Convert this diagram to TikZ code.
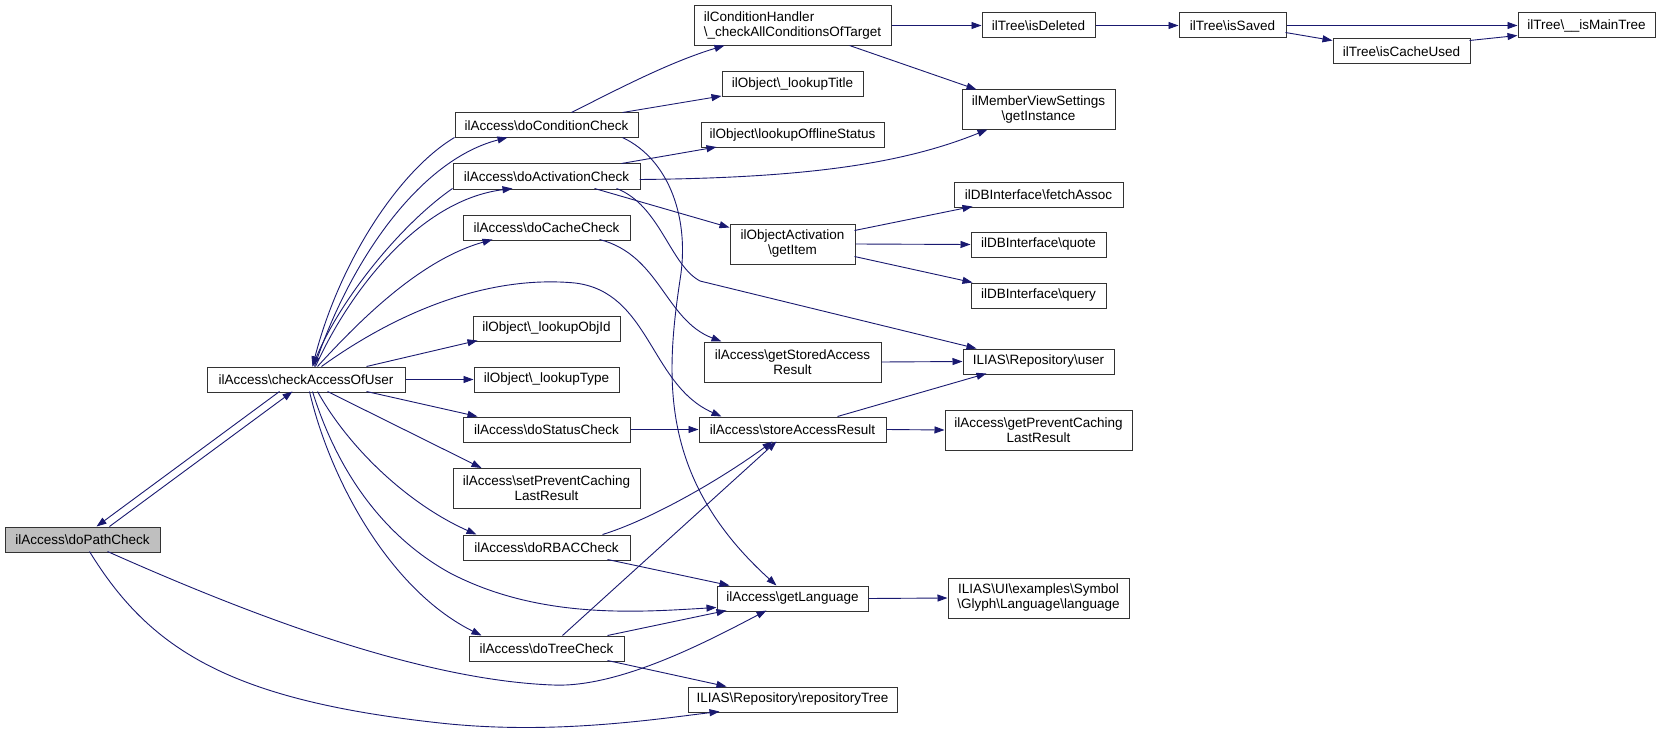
\documentclass[tikz,border=0pt]{standalone}
\usepackage{fontspec}
\setmainfont{Liberation Sans}
\usetikzlibrary{arrows.meta,calc}
\definecolor{edgecol}{HTML}{191970}
\definecolor{rootfill}{HTML}{BFBFBF}
\newcommand{\nfont}{\fontsize{13.5}{15}\selectfont}
\newcommand{\bs}{\textbackslash}
\begin{document}
\begin{tikzpicture}[x=1pt,y=-1pt,
  box/.style={draw=black!80, line width=1pt, fill=white, inner sep=0pt, font=\nfont, align=center, minimum height=25pt},
  tall/.style={box, minimum height=40pt},
  edge/.style={draw=edgecol, line width=0.9pt, -{Triangle[length=10pt,width=7pt]}}]
\useasboundingbox (0,0) rectangle (1660,733);
\fill[white] (0,0) rectangle (1660,733);
% nodes
\node[box, fill=rootfill, minimum width=155pt] (dpc) at (82.5,539.5) {ilAccess\bs doPathCheck};
\node[box, minimum width=198pt] (cau) at (306,379.5) {ilAccess\bs checkAccessOfUser};
\node[box, minimum width=183pt] (dcc) at (546.5,125.5) {ilAccess\bs doConditionCheck};
\node[box, minimum width=187pt] (dac) at (546.5,176.5) {ilAccess\bs doActivationCheck};
\node[box, minimum width=167pt] (dch) at (546.5,227.5) {ilAccess\bs doCacheCheck};
\node[box, minimum width=147pt] (loi) at (546.5,328.5) {ilObject\bs\_lookupObjId};
\node[box, minimum width=145pt] (lty) at (546.5,379.5) {ilObject\bs\_lookupType};
\node[box, minimum width=167pt] (dsc) at (546.5,429.5) {ilAccess\bs doStatusCheck};
\node[tall, minimum width=187pt] (spc) at (546.5,488.5) {ilAccess\bs setPreventCaching\\LastResult};
\node[box, minimum width=167pt] (drc) at (546.5,547.5) {ilAccess\bs doRBACCheck};
\node[box, minimum width=155pt] (dtc) at (546.5,648.5) {ilAccess\bs doTreeCheck};
\node[tall, minimum width=197pt, align=left] (ch) at (792.5,26) {ilConditionHandler\\\bs\_checkAllConditionsOfTarget};
\node[box, minimum width=141pt] (ltt) at (792.5,84) {ilObject\bs\_lookupTitle};
\node[box, minimum width=183pt] (los) at (792.5,135) {ilObject\bs lookupOfflineStatus};
\node[tall, minimum width=125pt] (oag) at (792.5,244) {ilObjectActivation\\\bs getItem};
\node[tall, minimum width=177pt] (gsr) at (792.5,362) {ilAccess\bs getStoredAccess\\Result};
\node[box, minimum width=187pt] (sar) at (792.5,429.5) {ilAccess\bs storeAccessResult};
\node[box, minimum width=151pt] (gla) at (792.5,598.5) {ilAccess\bs getLanguage};
\node[box, minimum width=209pt] (rpt) at (792.5,699.5) {ILIAS\bs Repository\bs repositoryTree};
\node[box, minimum width=113pt] (isd) at (1038.5,25.5) {ilTree\bs isDeleted};
\node[box, minimum width=107pt] (iss) at (1232.5,25.5) {ilTree\bs isSaved};
\node[box, minimum width=137pt] (icu) at (1401.5,51.5) {ilTree\bs isCacheUsed};
\node[box, minimum width=137pt] (imt) at (1586.5,25.5) {ilTree\bs\_\_isMainTree};
\node[tall, minimum width=153pt] (mvs) at (1038.5,110) {ilMemberViewSettings\\\bs getInstance};
\node[box, minimum width=169pt] (fas) at (1038.5,194.5) {ilDBInterface\bs fetchAssoc};
\node[box, minimum width=135pt] (quo) at (1038.5,244.5) {ilDBInterface\bs quote};
\node[box, minimum width=135pt] (qry) at (1038.5,295.5) {ilDBInterface\bs query};
\node[box, minimum width=151pt] (usr) at (1038.5,361.5) {ILIAS\bs Repository\bs user};
\node[tall, minimum width=187pt] (gpc) at (1038.5,430) {ilAccess\bs getPreventCaching\\LastResult};
\node[tall, minimum width=181pt] (lng) at (1038.5,598) {ILIAS\bs UI\bs examples\bs Symbol\\\bs Glyph\bs Language\bs language};
% edges: doPathCheck / checkAccessOfUser
\draw[edge] ($(cau.north west)+(73,25)$) -- ($(dpc.north west)+(92,0)$);
\draw[edge] ($(dpc.north west)+(105,0)$) -- ($(cau.north west)+(86,25)$);
\draw[edge] ($(dpc.north west)+(103,25)$) .. controls (250,615) and (420,680) .. (553,685) .. controls (620,688) and (710,640) .. ($(gla.north west)+(50,25)$);
\draw[edge] ($(dpc.north west)+(85,25)$) .. controls (150,650) and (230,700) .. (440,723) .. controls (550,735) and (650,720) .. ($(rpt.north west)+(32,25)$);
% edges around checkAccessOfUser top
\draw[edge] ($(dcc.north west)+(0,25)$) .. controls (400,170) and (340,260) .. ($(cau.north west)+(106,0)$);
\draw[edge] ($(cau.north west)+(108,0)$) .. controls (350,260) and (420,160) .. ($(dcc.north west)+(53,25)$);
\draw[edge] ($(dac.north west)+(0,25)$) .. controls (400,225) and (340,300) .. ($(cau.north west)+(106,0)$);
\draw[edge] ($(cau.north west)+(109,0)$) .. controls (350,290) and (420,200) .. ($(dac.north west)+(60,25)$);
\draw[edge] ($(cau.north west)+(111,0)$) .. controls (360,320) and (420,260) .. ($(dch.north west)+(30,25)$);
\draw[edge] ($(cau.north west)+(115,0)$) .. controls (400,310) and (490,275) .. (575,283) .. controls (650,292) and (650,385) .. ($(sar.north west)+(23,0)$);
\draw[edge] ($(cau.north west)+(160,0)$) -- ($(loi.north west)+(5,25)$);
\draw[edge] (cau.east) -- (lty.west);
\draw[edge] ($(cau.north west)+(160,25)$) -- ($(dsc.north west)+(15,0)$);
\draw[edge] ($(cau.north west)+(121,25)$) -- ($(spc.north west)+(29,0)$);
\draw[edge] ($(cau.north west)+(111,25)$) .. controls (350,450) and (410,505) .. ($(drc.north west)+(14,0)$);
\draw[edge] ($(cau.north west)+(106,25)$) .. controls (340,480) and (390,540) .. (450,573) .. controls (540,620) and (640,612) .. ($(gla.north west)+(0,22)$);
\draw[edge] ($(cau.north west)+(103,25)$) .. controls (330,480) and (390,590) .. ($(dtc.north west)+(13,0)$);
% doConditionCheck
\draw[edge] ($(dcc.north west)+(117,0)$) .. controls (620,88) and (670,62) .. ($(ch.north west)+(31,40)$);
\draw[edge] ($(dcc.north west)+(168,0)$) -- ($(ltt.north west)+(0,25)$);
\draw[edge] ($(dcc.north west)+(168,25)$) .. controls (670,160) and (690,220) .. (680,280) .. controls (665,380) and (660,480) .. ($(gla.north west)+(60,0)$);
% doActivationCheck
\draw[edge] ($(dac.north west)+(169,0)$) -- ($(los.north west)+(16,25)$);
\draw[edge] ($(dac.north west)+(187,16)$) .. controls (800,178) and (900,165) .. ($(mvs.north west)+(26,40)$);
\draw[edge] ($(dac.north west)+(142,25)$) -- ($(oag.north west)+(0,4)$);
\draw[edge] ($(dac.north west)+(164,25)$) .. controls (660,205) and (670,265) .. (700,281) -- ($(usr.north west)+(14,0)$);
% doCacheCheck
\draw[edge] ($(dch.north west)+(137,25)$) .. controls (660,255) and (665,320) .. ($(gsr.north west)+(18,0)$);
% condition handler chain
\draw[edge] (ch.east |- isd.west) -- (isd.west);
\draw[edge] ($(ch.north west)+(156,40)$) -- ($(mvs.north west)+(15,0)$);
\draw[edge] (isd.east) -- (iss.west);
\draw[edge] (iss.east) -- (imt.west);
\draw[edge] ($(iss.north west)+(107,20)$) -- ($(icu.north west)+(0,2)$);
\draw[edge] ($(icu.north west)+(137,2)$) -- ($(imt.north west)+(0,23)$);
% getItem
\draw[edge] ($(oag.north west)+(125,7)$) -- ($(fas.north west)+(19,25)$);
\draw[edge] (oag.east) -- (quo.west);
\draw[edge] ($(oag.north west)+(125,33)$) -- ($(qry.north west)+(2,0)$);
% stored/store
\draw[edge] (gsr.east) -- (usr.west);
\draw[edge] ($(sar.north west)+(139,0)$) -- ($(usr.north west)+(24,25)$);
\draw[edge] (sar.east) -- (gpc.west);
\draw[edge] (dsc.east) -- (sar.west);
% RBAC / Tree
\draw[edge] ($(drc.north west)+(140,0)$) .. controls (650,520) and (720,480) .. ($(sar.north west)+(74,25)$);
\draw[edge] ($(drc.north west)+(145,25)$) -- ($(gla.north west)+(13,0)$);
\draw[edge] ($(dtc.north west)+(94,0)$) -- ($(sar.north west)+(78,25)$);
\draw[edge] ($(dtc.north west)+(139,0)$) -- ($(gla.north west)+(10,25)$);
\draw[edge] ($(dtc.north west)+(139,25)$) -- ($(rpt.north west)+(39,0)$);
\draw[edge] (gla.east) -- (lng.west);
\end{tikzpicture}
\end{document}
